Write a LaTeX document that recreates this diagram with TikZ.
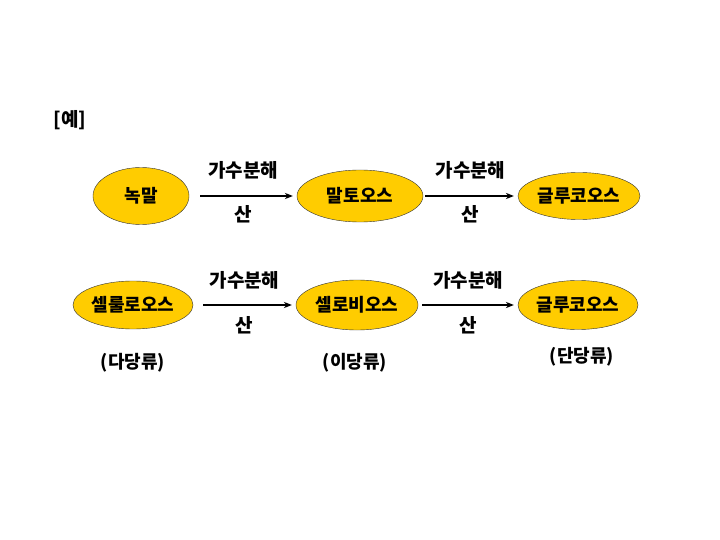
\documentclass[tikz,border=0pt]{standalone}
\usepackage{fontspec}
\setmainfont{Noto Sans CJK KR}
\usepackage{xcolor}
\usetikzlibrary{arrows.meta,shapes.geometric}
\definecolor{sugarFill}{HTML}{FFCC00}
\tikzset{
  sugar/.style={ellipse, draw=black!80, fill=sugarFill, inner sep=0pt,
    font=\fontsize{18}{20}\selectfont\bfseries},
  steptext/.style={font=\fontsize{19}{21}\selectfont\bfseries},
  kindtext/.style={font=\fontsize{18}{20}\selectfont\bfseries},
  reacArc/.style={-{Stealth[length=2.8mm, width=2.2mm]}, line width=1.2pt, shorten <=11pt, shorten >=4pt},
}
\begin{document}
\begin{tikzpicture}[x=1pt, y=-1pt]
  \useasboundingbox (0,0) rectangle (720,540);
  \node[steptext] (ex) at (70,120) {[예]};
  % upper row
  \node[sugar, minimum width=96pt, minimum height=57pt] (starch) at (141,196) {녹말};
  \node[sugar, minimum width=126pt, minimum height=52pt] (maltose) at (360,196) {말토오스};
  \node[sugar, minimum width=122pt, minimum height=47pt] (glucA) at (579,196) {글루코오스};
  \draw[reacArc] (starch.east) -- (maltose.west)
    node[steptext, midway, yshift=26pt] {가수분해}
    node[steptext, midway, yshift=-18pt] {산};
  \draw[reacArc, shorten <=2pt] (maltose.east) -- (glucA.west)
    node[steptext, midway, yshift=26pt] {가수분해}
    node[steptext, midway, yshift=-18pt] {산};
  % lower row
  \node[sugar, minimum width=120pt, minimum height=48pt] (cellulose) at (133,305) {셀룰로오스};
  \node[sugar, minimum width=122pt, minimum height=50pt] (cellobiose) at (357,305) {셀로비오스};
  \node[sugar, minimum width=120pt, minimum height=49pt] (glucB) at (578,305) {글루코오스};
  \draw[reacArc, shorten <=10pt] (cellulose.east) -- (cellobiose.west)
    node[steptext, midway, yshift=25pt] {가수분해}
    node[steptext, midway, yshift=-20pt] {산};
  \draw[reacArc, shorten <=4pt] (cellobiose.east) -- (glucB.west)
    node[steptext, midway, yshift=25pt] {가수분해}
    node[steptext, midway, yshift=-20pt] {산};
  \node[kindtext] (poly) at (133,363) {(다당류)};
  \node[kindtext] (di) at (355,363) {(이당류)};
  \node[kindtext] (mono) at (582,357) {(단당류)};
\end{tikzpicture}
\end{document}
